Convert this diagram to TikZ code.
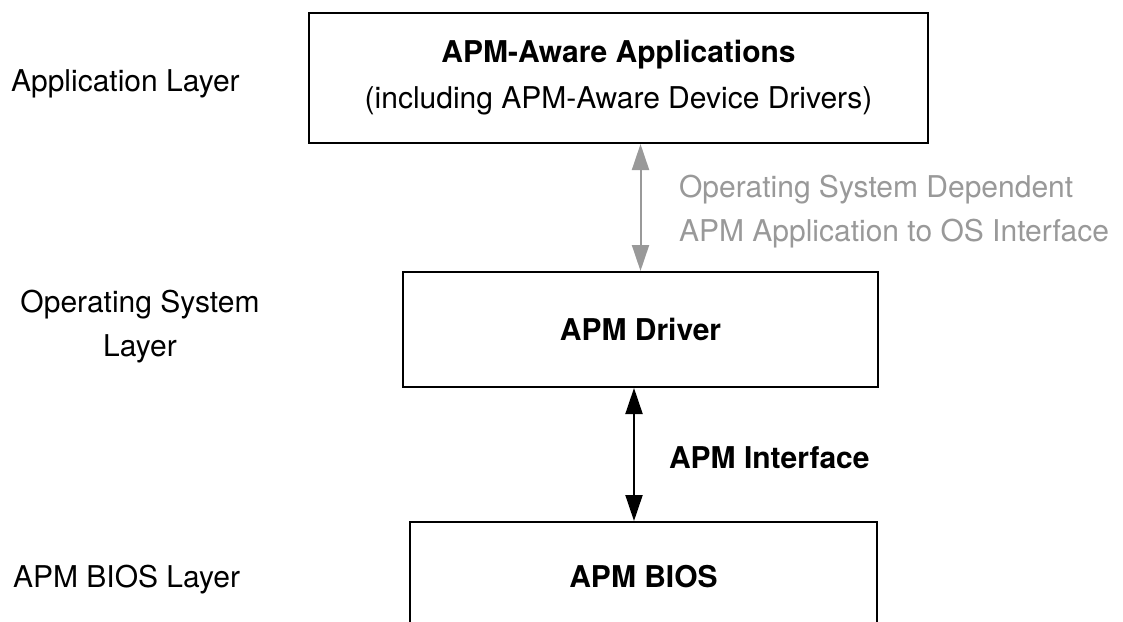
\documentclass[tikz,border=0pt]{standalone}
\usepackage{fontspec}
\setmainfont{TeX Gyre Heros}
\usepackage{xcolor}
\usetikzlibrary{arrows.meta}
\definecolor{osgray}{gray}{0.6}
\newcommand\diagfont{\fontsize{15}{22}\selectfont}
\tikzset{
  layerbox/.style={draw,line width=1pt,inner sep=0pt,align=center,font=\diagfont\bfseries},
  biarrow/.style={{Triangle[length=13pt,width=8.5pt]}-{Triangle[length=13pt,width=8.5pt]},line width=1pt}
}

\begin{document}
\begin{tikzpicture}[x=0.5pt,y=-0.5pt,font=\diagfont]
            \useasboundingbox (0,0) rectangle (1123,621);
            \clip (0,0) rectangle (1123,621);
            % the three layers
            \node[layerbox,minimum width=309.5pt,minimum height=65pt] (apps) at (618.5,78)
                {APM-Aware Applications\\[1pt]{\mdseries (including APM-Aware Device Drivers)}};
            \node[layerbox,minimum width=237.5pt,minimum height=57.5pt] (drv) at (640.5,329.5) {APM Driver};
            \node[layerbox,minimum width=233.5pt,minimum height=55pt] (bios) at (643.5,577) {APM BIOS};
            \coordinate (ifx) at (634,0);
            \begin{scope}[biarrow]
                \draw[osgray] (apps.south -| drv.north) -- (drv.north);
                \draw (drv.south -| ifx) -- (bios.north -| ifx);
            \end{scope}
            \node[anchor=south west,align=left,text=osgray] (ostext) at (672,255)
                {Operating System Dependent\\APM Application to OS Interface};
            \node[anchor=west,font=\diagfont\bfseries] (iftext) at (662,458) {APM Interface};
            % layer names
            \node[anchor=west] (applayer) at (4,84) {Application Layer};
            \node[align=center] (oslayer) at (140,327) {Operating System\\Layer};
            \node[anchor=west] (bioslayer) at (6,580) {APM BIOS Layer};
        \end{tikzpicture}
\end{document}
